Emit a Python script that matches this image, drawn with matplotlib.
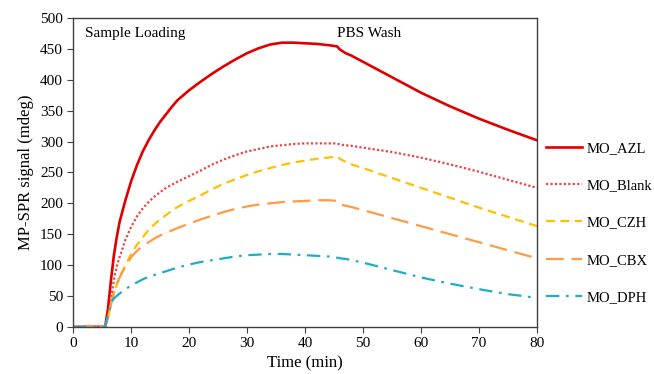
import matplotlib
matplotlib.use("Agg")
import matplotlib.pyplot as plt

plt.rcParams['font.family'] = ['Liberation Serif', 'DejaVu Serif']

time = [0, 5.5, 6, 6.5, 7, 7.5, 8, 9, 10, 11, 12, 13, 14, 15, 16, 17, 18, 20, 22, 24, 26, 28, 30,
        32, 34, 36, 38, 40, 42, 44, 45.5, 46, 47, 48, 50, 55, 60, 65, 70, 75, 80]

mo_azl = [0, 0, 30, 75, 115, 145, 170, 205, 236, 262, 284, 302, 318, 332, 344, 356, 367, 383, 397, 410, 422, 433, 443,
          451, 457, 460, 460, 459, 458, 456, 454, 449, 443, 439, 429, 404, 379, 357, 337, 319, 302]
mo_blank = [0, 0, 15, 45, 75, 98, 113, 141, 162, 179, 192, 202, 211, 218, 225, 230, 235, 244, 253, 263, 271, 278, 284,
            288, 292, 294, 296, 297, 297, 297, 297, 295, 294, 293, 290, 283, 274, 263, 251, 238, 225]
mo_czh = [0, 0, 15, 35, 55, 68, 80, 100, 118, 133, 145, 157, 166, 174, 181, 188, 194, 204, 213, 223, 232, 239, 246,
          252, 257, 262, 266, 269, 272, 274, 276, 272, 267, 263, 257, 241, 225, 209, 193, 178, 163]
mo_cbx = [0, 0, 15, 35, 55, 70, 80, 98, 113, 123, 131, 137, 143, 148, 152, 156, 160, 167, 174, 180, 186, 191, 195,
          198, 200, 202, 203, 204, 205, 205, 204, 198, 196, 194, 189, 176, 163, 150, 137, 124, 111]
mo_dph = [0, 0, 20, 38, 46, 50, 54, 61, 67, 72, 77, 81, 84, 87, 90, 93, 96, 101, 105, 108, 111, 114, 116,
          117, 118, 118, 117, 116, 115, 114, 112, 111, 110, 108, 104, 92, 80, 70, 61, 53, 47]

labels = ["MO_AZL", "MO_Blank", "MO_CZH", "MO_CBX", "MO_DPH"]

fig = plt.figure(figsize=(6.54, 3.74), dpi=100)
ax = fig.add_axes([0.112, 0.126, 0.709, 0.826])

ax.plot(time, mo_azl, color="#e00000", lw=1.9, label=labels[0])
ax.plot(time, mo_blank, color="#ec4545", lw=1.6, linestyle=(0, (1, 1)), label=labels[1])
ax.plot(time, mo_czh, color="#ffc000", lw=1.6, linestyle=(0, (4, 2.5)), label=labels[2])
ax.plot(time, mo_cbx, color="#ff9a45", lw=1.6, linestyle=(0, (8, 3.5)), label=labels[3])
ax.plot(time, mo_dph, color="#1aaec8", lw=1.6, linestyle=(0, (6, 3, 1.2, 3)), label=labels[4])

ax.set_xlim(0, 80)
ax.set_ylim(0, 500)
ax.set_xticks(range(0, 81, 10))
ax.set_yticks(range(0, 501, 50))
ax.tick_params(axis='both', direction='out', length=4, labelsize=11, color="#404040")
for s in ax.spines.values():
    s.set_color("#404040")
    s.set_linewidth(1.0)

ax.set_xlabel("Time (min)", fontsize=12)
ax.set_ylabel("MP-SPR signal (mdeg)", fontsize=12)

ax.text(2, 475, "Sample Loading", fontsize=11, va='center', ha='left')
ax.text(51, 475, "PBS Wash", fontsize=11, va='center', ha='center')

ax.legend(loc='center left', bbox_to_anchor=(1.0, 0.337), frameon=False,
          fontsize=10.5, handlelength=2.5, labelspacing=1.65, handletextpad=0.3,
          borderaxespad=0.2, borderpad=0.4)

fig.savefig("out.png", dpi=100)
